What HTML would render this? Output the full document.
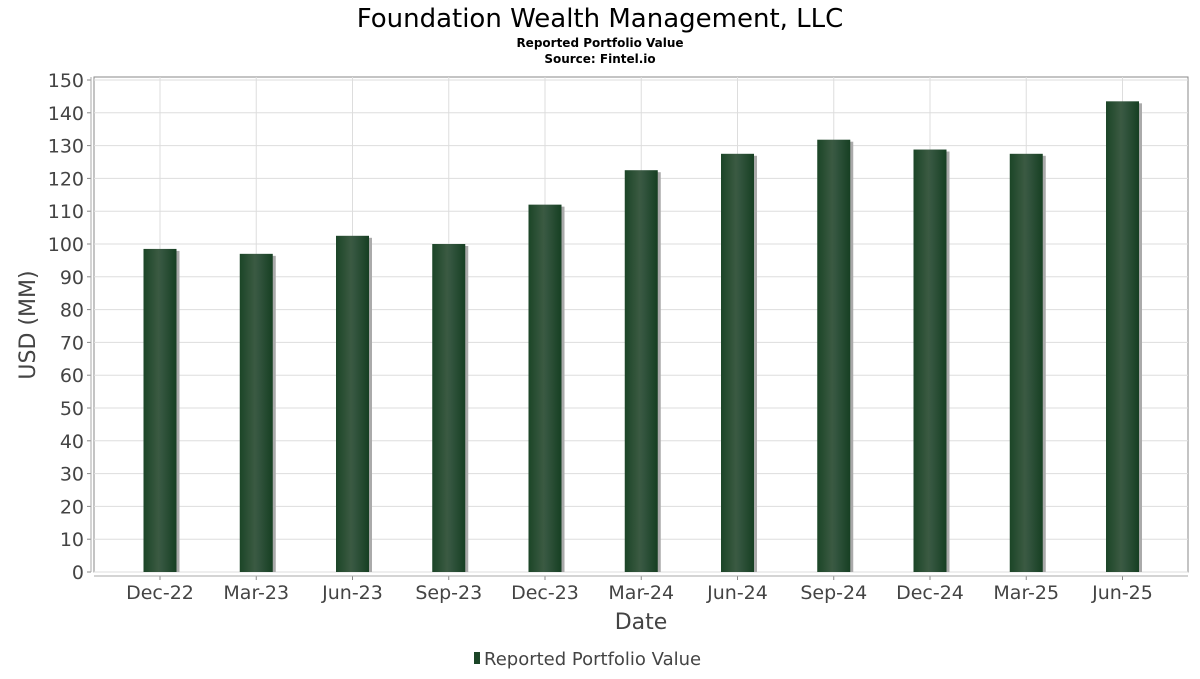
<!DOCTYPE html>
<html><head><meta charset="utf-8"><style>
body{margin:0;background:#fff;font-family:"DejaVu Sans","Liberation Sans",sans-serif;}
svg text{font-family:"DejaVu Sans","Liberation Sans",sans-serif;}
</style></head><body>
<svg id="chart" width="1200" height="675" xmlns="http://www.w3.org/2000/svg">
<defs>
<linearGradient id="barg" x1="0" x2="1" y1="0" y2="0">
<stop offset="0" stop-color="#1b4527"/><stop offset="0.45" stop-color="#3b5a42"/><stop offset="0.55" stop-color="#355640"/><stop offset="1" stop-color="#163f22"/>
</linearGradient>
</defs>
<text x="600" y="27" text-anchor="middle" font-size="26" fill="#000">Foundation Wealth Management, LLC</text>
<text x="600" y="47" text-anchor="middle" font-size="12" font-weight="bold" fill="#000">Reported Portfolio Value</text>
<text x="600" y="63" text-anchor="middle" font-size="12" font-weight="bold" fill="#000">Source: Fintel.io</text>
<rect x="94" y="77" width="1094" height="495" fill="#fff" stroke="#888" stroke-width="1"/>
<g id="grid"></g>
<g id="bars"></g>
<g id="axes"></g>
<text transform="translate(35,325) rotate(-90)" text-anchor="middle" font-size="22" fill="#444">USD (MM)</text>
<text x="641" y="629" text-anchor="middle" font-size="22" fill="#444">Date</text>
<g>
<rect x="474" y="652" width="6" height="12" fill="#1b4527"/>
<text x="484" y="665" font-size="18" fill="#444">Reported Portfolio Value</text>
</g>
</svg>
<script>
const categories=["Dec-22","Mar-23","Jun-23","Sep-23","Dec-23","Mar-24","Jun-24","Sep-24","Dec-24","Mar-25","Jun-25"];
const values=[98.5,97,102.5,100,112,122.5,127.5,131.8,128.8,127.5,143.5];
const yTicks=[0,10,20,30,40,50,60,70,80,90,100,110,120,130,140,150];
const NS="http://www.w3.org/2000/svg";
const y=v=>572-v*(492/150);
const x=i=>160+i*96.25;
const bw=33;
function mk(t,a,p){const e=document.createElementNS(NS,t);for(const k in a)e.setAttribute(k,a[k]);p.appendChild(e);return e;}
const grid=document.getElementById('grid'),bars=document.getElementById('bars'),axes=document.getElementById('axes');
yTicks.forEach(v=>{
 const l=mk('line',{x1:94,x2:1188,y1:y(v),y2:y(v),stroke:'#ddd','stroke-width':1},grid);
 
 
 const tk=mk('line',{x1:87,x2:91,y1:y(v),y2:y(v),stroke:'#888'},axes);
 
 
 const t=mk('text',{x:84,y:y(v)+7,'text-anchor':'end','font-size':19,fill:'#444'},axes);
 t.textContent=v;
 
 
});
categories.forEach((c,i)=>{
 const g=mk('line',{x1:x(i),x2:x(i),y1:77,y2:572,stroke:'#ddd'},grid);
 
 
 const s=mk('rect',{x:x(i)-bw/2+3,y:y(values[i])+2,width:bw,height:572-y(values[i])-2,fill:'#aaa'},bars);
 
 
 const b=mk('rect',{x:x(i)-bw/2,y:y(values[i]),width:bw,height:572-y(values[i]),fill:'url(#barg)'},bars);
 
 
 const tk=mk('line',{x1:x(i),x2:x(i),y1:576,y2:580,stroke:'#888'},axes);
 
 
 const t=mk('text',{x:x(i),y:599,'text-anchor':'middle','font-size':19,fill:'#444'},axes);
 t.textContent=c;
 
 
});
const ya=mk('line',{x1:91,x2:91,y1:77,y2:572,stroke:'#aaa'},axes);


const xa=mk('line',{x1:94,x2:1188,y1:576,y2:576,stroke:'#aaa'},axes);


</script>
</body></html>
